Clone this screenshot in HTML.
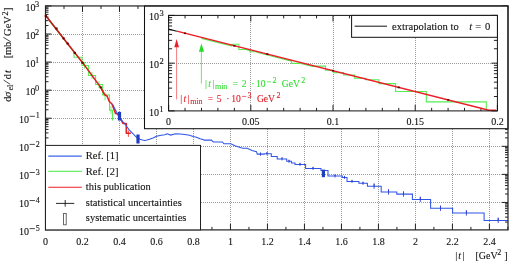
<!DOCTYPE html><html><head><meta charset="utf-8"><style>html,body{margin:0;padding:0;background:#fff;width:509px;height:262px;overflow:hidden}svg{display:block;will-change:transform}</style></head><body><svg width="509" height="262" viewBox="0 0 509 262">
<defs><clipPath id="cm"><rect x="45.50" y="5.95" width="462.50" height="223.95"/></clipPath>
<linearGradient id="rg" gradientUnits="userSpaceOnUse" x1="45" y1="0" x2="115" y2="0"><stop offset="0" stop-color="#b81a1a"/><stop offset="0.6" stop-color="#d61d1d"/><stop offset="1" stop-color="#e82020"/></linearGradient>
<clipPath id="ci"><rect x="168.60" y="15.40" width="328.80" height="95.50"/></clipPath></defs>
<rect width="509" height="262" fill="#fff"/>
<path d="M82.50 7.00V229.90M119.50 7.00V229.90M156.50 7.00V229.90M193.50 7.00V229.90M230.50 7.00V229.90M267.50 7.00V229.90M304.50 7.00V229.90M341.50 7.00V229.90M378.50 7.00V229.90M415.50 7.00V229.90M452.50 7.00V229.90M489.50 7.00V229.90M47.00 34.50H508.00M47.00 62.50H508.00M47.00 90.50H508.00M47.00 118.50H508.00M47.00 146.50H508.00M47.00 174.50H508.00M47.00 202.50H508.00" fill="none" stroke="#808080" stroke-width="0.8" stroke-dasharray="1 1"/>
<path d="M45.50 229.90v-6.00M45.50 5.95v6.00M64.00 229.90v-3.00M64.00 5.95v3.00M82.49 229.90v-6.00M82.49 5.95v6.00M100.99 229.90v-3.00M100.99 5.95v3.00M119.48 229.90v-6.00M119.48 5.95v6.00M137.98 229.90v-3.00M137.98 5.95v3.00M156.48 229.90v-6.00M156.48 5.95v6.00M174.97 229.90v-3.00M174.97 5.95v3.00M193.47 229.90v-6.00M193.47 5.95v6.00M211.96 229.90v-3.00M211.96 5.95v3.00M230.46 229.90v-6.00M230.46 5.95v6.00M248.96 229.90v-3.00M248.96 5.95v3.00M267.45 229.90v-6.00M267.45 5.95v6.00M285.95 229.90v-3.00M285.95 5.95v3.00M304.44 229.90v-6.00M304.44 5.95v6.00M322.94 229.90v-3.00M322.94 5.95v3.00M341.44 229.90v-6.00M341.44 5.95v6.00M359.93 229.90v-3.00M359.93 5.95v3.00M378.43 229.90v-6.00M378.43 5.95v6.00M396.92 229.90v-3.00M396.92 5.95v3.00M415.42 229.90v-6.00M415.42 5.95v6.00M433.92 229.90v-3.00M433.92 5.95v3.00M452.41 229.90v-6.00M452.41 5.95v6.00M470.91 229.90v-3.00M470.91 5.95v3.00M489.40 229.90v-6.00M489.40 5.95v6.00M507.90 229.90v-3.00M507.90 5.95v3.00M45.50 5.95h6.00M508.00 5.95h-6.00M45.50 25.57h3.00M508.00 25.57h-3.00M45.50 20.63h3.00M508.00 20.63h-3.00M45.50 17.12h3.00M508.00 17.12h-3.00M45.50 14.40h3.00M508.00 14.40h-3.00M45.50 12.18h3.00M508.00 12.18h-3.00M45.50 10.30h3.00M508.00 10.30h-3.00M45.50 8.67h3.00M508.00 8.67h-3.00M45.50 7.23h3.00M508.00 7.23h-3.00M45.50 34.02h6.00M508.00 34.02h-6.00M45.50 53.64h3.00M508.00 53.64h-3.00M45.50 48.70h3.00M508.00 48.70h-3.00M45.50 45.19h3.00M508.00 45.19h-3.00M45.50 42.47h3.00M508.00 42.47h-3.00M45.50 40.25h3.00M508.00 40.25h-3.00M45.50 38.37h3.00M508.00 38.37h-3.00M45.50 36.74h3.00M508.00 36.74h-3.00M45.50 35.30h3.00M508.00 35.30h-3.00M45.50 62.09h6.00M508.00 62.09h-6.00M45.50 81.71h3.00M508.00 81.71h-3.00M45.50 76.77h3.00M508.00 76.77h-3.00M45.50 73.26h3.00M508.00 73.26h-3.00M45.50 70.54h3.00M508.00 70.54h-3.00M45.50 68.32h3.00M508.00 68.32h-3.00M45.50 66.44h3.00M508.00 66.44h-3.00M45.50 64.81h3.00M508.00 64.81h-3.00M45.50 63.37h3.00M508.00 63.37h-3.00M45.50 90.16h6.00M508.00 90.16h-6.00M45.50 109.78h3.00M508.00 109.78h-3.00M45.50 104.84h3.00M508.00 104.84h-3.00M45.50 101.33h3.00M508.00 101.33h-3.00M45.50 98.61h3.00M508.00 98.61h-3.00M45.50 96.39h3.00M508.00 96.39h-3.00M45.50 94.51h3.00M508.00 94.51h-3.00M45.50 92.88h3.00M508.00 92.88h-3.00M45.50 91.44h3.00M508.00 91.44h-3.00M45.50 118.23h6.00M508.00 118.23h-6.00M45.50 137.85h3.00M508.00 137.85h-3.00M45.50 132.91h3.00M508.00 132.91h-3.00M45.50 129.40h3.00M508.00 129.40h-3.00M45.50 126.68h3.00M508.00 126.68h-3.00M45.50 124.46h3.00M508.00 124.46h-3.00M45.50 122.58h3.00M508.00 122.58h-3.00M45.50 120.95h3.00M508.00 120.95h-3.00M45.50 119.51h3.00M508.00 119.51h-3.00M45.50 146.30h6.00M508.00 146.30h-6.00M45.50 165.92h3.00M508.00 165.92h-3.00M45.50 160.98h3.00M508.00 160.98h-3.00M45.50 157.47h3.00M508.00 157.47h-3.00M45.50 154.75h3.00M508.00 154.75h-3.00M45.50 152.53h3.00M508.00 152.53h-3.00M45.50 150.65h3.00M508.00 150.65h-3.00M45.50 149.02h3.00M508.00 149.02h-3.00M45.50 147.58h3.00M508.00 147.58h-3.00M45.50 174.37h6.00M508.00 174.37h-6.00M45.50 193.99h3.00M508.00 193.99h-3.00M45.50 189.05h3.00M508.00 189.05h-3.00M45.50 185.54h3.00M508.00 185.54h-3.00M45.50 182.82h3.00M508.00 182.82h-3.00M45.50 180.60h3.00M508.00 180.60h-3.00M45.50 178.72h3.00M508.00 178.72h-3.00M45.50 177.09h3.00M508.00 177.09h-3.00M45.50 175.65h3.00M508.00 175.65h-3.00M45.50 202.44h6.00M508.00 202.44h-6.00M45.50 222.06h3.00M508.00 222.06h-3.00M45.50 217.12h3.00M508.00 217.12h-3.00M45.50 213.61h3.00M508.00 213.61h-3.00M45.50 210.89h3.00M508.00 210.89h-3.00M45.50 208.67h3.00M508.00 208.67h-3.00M45.50 206.79h3.00M508.00 206.79h-3.00M45.50 205.16h3.00M508.00 205.16h-3.00M45.50 203.72h3.00M508.00 203.72h-3.00" fill="none" stroke="#222" stroke-width="1"/>
<path d="M49.20 20.72L74.00 52.18V57.30H82.00V65.50H88.40V75.50H95.60V84.50H102.70V95.00H109.50V110.20H112.50V120.4" fill="none" stroke="#55ee55" stroke-width="1.1" clip-path="url(#cm)"/>
<path d="M105 92.2V100.3M84.5 62V68.5M92 72V79M99 81V88M111 106V114" fill="none" stroke="#55ee55" stroke-width="0.8"/>
<path d="M45.5 15.3L82.4 62.4L100.7 87.4L104.5 94.5L107 96L109.3 101.5L112 104L115.5 113.4L118 114L119.5 117L121 119.5L123 123.5H126.3V133.3H130.9" fill="none" stroke="url(#rg)" stroke-width="1.6" stroke-linejoin="round" clip-path="url(#cm)"/>
<path d="M128.4 130.5V136.8" stroke="#ee1c24" stroke-width="0.8"/>
<rect x="44.70" y="15.00" width="2.2" height="2" fill="#600"/>
<rect x="55.40" y="27.50" width="2.2" height="2" fill="#600"/>
<rect x="62.50" y="37.40" width="2.2" height="2" fill="#600"/>
<rect x="66.60" y="42.60" width="2.2" height="2" fill="#600"/>
<rect x="73.70" y="51.90" width="2.2" height="2" fill="#600"/>
<rect x="81.40" y="61.80" width="2.2" height="2" fill="#600"/>
<rect x="99.60" y="86.40" width="2.2" height="2" fill="#600"/>
<path d="M112.70 104.60L116.00 111.00L119.50 118.00L123.50 122.30L129.20 129.80L136.60 137.30L140.00 139.20L142.50 140.00L144.70 140.40L147.00 139.90L149.40 139.20L153.00 138.00L156.50 136.30L161.20 135.30L164.80 134.80L167.10 133.70L170.70 135.10L175.40 133.70L180.10 134.10L184.80 134.50L189.50 135.30L193.10 136.50L196.60 137.20L200.00 138.80L203.00 139.60L204.00 140.10L211.50 140.10L212.50 141.30L213.60 142.00L222.50 142.00L223.90 143.80L230.80 143.80L235.00 145.80L241.00 147.80L243.00 148.30L247.30 148.30L252.00 150.50L256.50 151.80L257.30 154.10L264.20 154.10L264.20 153.70L271.30 153.70L271.30 156.40L277.20 156.40L277.20 158.90L286.70 158.90L286.70 161.30L291.40 161.30L291.40 163.00L295.00 163.00L295.00 164.40L305.60 164.40L305.60 168.40L321.00 168.40L321.00 170.50L328.00 170.50L328.00 176.00L342.30 176.00L342.30 177.40L347.00 177.40L347.00 181.40L358.90 181.40L358.90 183.30L367.40 183.30L367.40 186.20L381.20 186.20L381.20 192.00L396.80 192.00L396.80 194.10L412.40 194.10L412.40 199.40L430.60 199.40L430.60 208.30L452.60 208.30L452.60 213.00L484.10 213.00L484.10 220.40L508.00 220.40" fill="none" stroke="#2f55e6" stroke-width="1.05" clip-path="url(#cm)"/>
<path d="M374.10 186.20v-2.6v5.2M388.50 192.00v-2.6v5.2M403.50 194.10v-2.6v5.2M420.30 199.40v-2.6v5.2M440.50 208.30v-2.6v5.2M466.40 213.00v-2.6v5.2M498.20 220.40v-2.6v5.2M352.00 181.40v-1.5v3M335.00 176.00v-1.5v3M313.00 168.40v-1.5v3M300.00 164.40v-1.5v3M282.00 158.90v-1.5v3M267.00 153.70v-1.5v3M260.50 154.20v-1.5v3M289.00 161.30v-1.5v3M344.50 177.40v-1.5v3M363.00 183.30v-1.5v3" stroke="#2a40d0" stroke-width="0.9"/>
<rect x="117.90" y="111.90" width="3.2" height="8.60" fill="#1f3fbf"/>
<rect x="136.40" y="134.50" width="3.2" height="9.00" fill="#1f3fbf"/>
<rect x="321.80" y="169.60" width="3.2" height="7.60" fill="#1f3fbf"/>
<rect x="144.5" y="5.95" width="363.50" height="122.75" fill="#fff" stroke="#111" stroke-width="1.05"/>
<path d="M250.50 16.00V110.90M333.50 16.00V110.90M415.50 16.00V110.90M170.00 63.50H497.40" fill="none" stroke="#808080" stroke-width="0.8" stroke-dasharray="1 1"/>
<path d="M168.60 110.90v-6.00M168.60 15.40v6.00M185.04 110.90v-3.00M185.04 15.40v3.00M201.48 110.90v-3.00M201.48 15.40v3.00M217.92 110.90v-3.00M217.92 15.40v3.00M234.36 110.90v-3.00M234.36 15.40v3.00M250.80 110.90v-6.00M250.80 15.40v6.00M267.24 110.90v-3.00M267.24 15.40v3.00M283.68 110.90v-3.00M283.68 15.40v3.00M300.12 110.90v-3.00M300.12 15.40v3.00M316.56 110.90v-3.00M316.56 15.40v3.00M333.00 110.90v-6.00M333.00 15.40v6.00M349.44 110.90v-3.00M349.44 15.40v3.00M365.88 110.90v-3.00M365.88 15.40v3.00M382.32 110.90v-3.00M382.32 15.40v3.00M398.76 110.90v-3.00M398.76 15.40v3.00M415.20 110.90v-6.00M415.20 15.40v6.00M431.64 110.90v-3.00M431.64 15.40v3.00M448.08 110.90v-3.00M448.08 15.40v3.00M464.52 110.90v-3.00M464.52 15.40v3.00M480.96 110.90v-3.00M480.96 15.40v3.00M497.40 110.90v-6.00M497.40 15.40v6.00M168.60 15.40h6.00M497.40 15.40h-6.00M168.60 48.78h3.50M497.40 48.78h-3.50M168.60 40.37h3.50M497.40 40.37h-3.50M168.60 34.40h3.50M497.40 34.40h-3.50M168.60 29.77h3.50M497.40 29.77h-3.50M168.60 25.99h3.50M497.40 25.99h-3.50M168.60 22.80h3.50M497.40 22.80h-3.50M168.60 20.03h3.50M497.40 20.03h-3.50M168.60 17.58h3.50M497.40 17.58h-3.50M168.60 63.15h6.00M497.40 63.15h-6.00M168.60 96.53h3.50M497.40 96.53h-3.50M168.60 88.12h3.50M497.40 88.12h-3.50M168.60 82.15h3.50M497.40 82.15h-3.50M168.60 77.52h3.50M497.40 77.52h-3.50M168.60 73.74h3.50M497.40 73.74h-3.50M168.60 70.55h3.50M497.40 70.55h-3.50M168.60 67.78h3.50M497.40 67.78h-3.50M168.60 65.33h3.50M497.40 65.33h-3.50M168.60 110.90h6M497.40 110.90h-6" fill="none" stroke="#222" stroke-width="1"/>
<path d="M201.50 38.37L231.80 46.04V44.20H238.90V49.50H246.00V49.63L250.00 50.64V51.80H257.00V52.41L291.50 61.15V63.40H299.60V63.20L312.80 66.54V66.10H325.50V70.30H333.40V72.60H343.60V75.00H354.60V78.30H365.60V79.70H379.00V83.60H395.60V91.50H426.30V101.90H486.30V110" fill="none" stroke="#55ee55" stroke-width="1.1" clip-path="url(#ci)"/>
<path d="M168.60 29.14L176.82 31.22" stroke="#111" stroke-width="1.1"/>
<path d="M176.82 31.22L488.82 110.20H496" fill="none" stroke="#ee1c24" stroke-width="1.35" clip-path="url(#ci)"/>
<rect x="183.94" y="32.50" width="2.2" height="1.6" fill="#600"/>
<rect x="233.26" y="44.98" width="2.2" height="1.6" fill="#600"/>
<rect x="266.14" y="53.31" width="2.2" height="1.6" fill="#600"/>
<rect x="331.90" y="69.95" width="2.2" height="1.6" fill="#600"/>
<rect x="397.66" y="86.59" width="2.2" height="1.6" fill="#600"/>
<rect x="446.98" y="99.08" width="2.2" height="1.6" fill="#600"/>
<path d="M176.6 47V99.4" stroke="#f07070" stroke-width="0.9"/>
<path d="M176.6 39.1L174.3 47.3H179Z" fill="#ee1c24"/>
<path d="M201.4 51V83.6" stroke="#66dd66" stroke-width="0.9"/>
<path d="M201.4 43.5L198.9 51.7H204.1Z" fill="#22dd22"/>
<rect x="168.60" y="15.40" width="328.80" height="95.50" fill="none" stroke="#111" stroke-width="1"/>
<rect x="351.6" y="15.40" width="145.80" height="21.90" fill="#fff" stroke="#111" stroke-width="1"/>
<path d="M354.6 26.2H387" stroke="#111" stroke-width="1"/>
<text x="391.99" y="29.50" font-family="Liberation Serif" stroke-width="0.1" stroke="currentColor" font-size="10.6" fill="#111" color="#111">extrapolation to</text>
<text x="469.33" y="29.50" font-family="Liberation Serif" stroke-width="0.1" stroke="currentColor" font-size="10.6" font-style="italic" fill="#111" color="#111">t</text>
<text x="475.37" y="29.50" font-family="Liberation Serif" stroke-width="0.1" stroke="currentColor" font-size="10.6" fill="#111" color="#111">=</text>
<text x="485.00" y="29.50" font-family="Liberation Serif" stroke-width="0.1" stroke="currentColor" font-size="10.6" fill="#111" color="#111">0</text>
<text x="149.02" y="20.40" font-family="Liberation Serif" stroke-width="0.1" stroke="currentColor" font-size="10" fill="#111" color="#111">10</text>
<text x="159.49" y="16.20" font-family="Liberation Serif" stroke-width="0.1" stroke="currentColor" font-size="8.5" fill="#111" color="#111">3</text>
<text x="149.02" y="68.15" font-family="Liberation Serif" stroke-width="0.1" stroke="currentColor" font-size="10" fill="#111" color="#111">10</text>
<text x="159.53" y="63.95" font-family="Liberation Serif" stroke-width="0.1" stroke="currentColor" font-size="8.5" fill="#111" color="#111">2</text>
<text x="149.02" y="115.90" font-family="Liberation Serif" stroke-width="0.1" stroke="currentColor" font-size="10" fill="#111" color="#111">10</text>
<text x="159.15" y="111.70" font-family="Liberation Serif" stroke-width="0.1" stroke="currentColor" font-size="8.5" fill="#111" color="#111">1</text>
<text x="168.60" y="124.6" font-family="Liberation Serif" stroke-width="0.1" stroke="currentColor" font-size="10" fill="#111" color="#111" text-anchor="middle">0</text>
<text x="250.80" y="124.6" font-family="Liberation Serif" stroke-width="0.1" stroke="currentColor" font-size="10" fill="#111" color="#111" text-anchor="middle">0.05</text>
<text x="333.00" y="124.6" font-family="Liberation Serif" stroke-width="0.1" stroke="currentColor" font-size="10" fill="#111" color="#111" text-anchor="middle">0.1</text>
<text x="415.20" y="124.6" font-family="Liberation Serif" stroke-width="0.1" stroke="currentColor" font-size="10" fill="#111" color="#111" text-anchor="middle">0.15</text>
<text x="497.40" y="124.6" font-family="Liberation Serif" stroke-width="0.1" stroke="currentColor" font-size="10" fill="#111" color="#111" text-anchor="middle">0.2</text>
<text x="205.08" y="87.40" font-family="Liberation Serif" stroke-width="0.1" stroke="currentColor" font-size="9.6" fill="#33dd33" color="#33dd33">|</text>
<text x="208.18" y="87.40" font-family="Liberation Serif" stroke-width="0.1" stroke="currentColor" font-size="9.6" font-style="italic" fill="#33dd33" color="#33dd33">t</text>
<text x="212.48" y="87.40" font-family="Liberation Serif" stroke-width="0.1" stroke="currentColor" font-size="9.6" fill="#33dd33" color="#33dd33">|</text>
<text x="214.93" y="89.40" font-family="Liberation Serif" stroke-width="0.1" stroke="currentColor" font-size="8.0" fill="#33dd33" color="#33dd33">min</text>
<text x="232.62" y="87.40" font-family="Liberation Serif" stroke-width="0.1" stroke="currentColor" font-size="9.6" fill="#33dd33" color="#33dd33">=</text>
<text x="241.78" y="87.40" font-family="Liberation Serif" stroke-width="0.1" stroke="currentColor" font-size="9.6" fill="#33dd33" color="#33dd33">2</text>
<text x="251.17" y="87.40" font-family="Liberation Serif" stroke-width="0.1" stroke="currentColor" font-size="9.6" fill="#33dd33" color="#33dd33">·</text>
<text x="255.96" y="87.40" font-family="Liberation Serif" stroke-width="0.1" stroke="currentColor" font-size="9.6" fill="#33dd33" color="#33dd33">10</text>
<path d="M266.90 81.80H271.10" stroke="#33dd33" stroke-width="0.7"/>
<text x="272.45" y="83.40" font-family="Liberation Serif" stroke-width="0.1" stroke="currentColor" font-size="8.0" fill="#33dd33" color="#33dd33">2</text>
<text x="281.71" y="87.40" font-family="Liberation Serif" stroke-width="0.1" stroke="currentColor" font-size="9.6" fill="#33dd33" color="#33dd33">GeV</text>
<text x="301.35" y="83.10" font-family="Liberation Serif" stroke-width="0.1" stroke="currentColor" font-size="8.0" fill="#33dd33" color="#33dd33">2</text>
<text x="180.28" y="102.00" font-family="Liberation Serif" stroke-width="0.1" stroke="currentColor" font-size="9.6" fill="#e0202a" color="#e0202a">|</text>
<text x="183.38" y="102.00" font-family="Liberation Serif" stroke-width="0.1" stroke="currentColor" font-size="9.6" font-style="italic" fill="#e0202a" color="#e0202a">t</text>
<text x="187.68" y="102.00" font-family="Liberation Serif" stroke-width="0.1" stroke="currentColor" font-size="9.6" fill="#e0202a" color="#e0202a">|</text>
<text x="190.13" y="104.00" font-family="Liberation Serif" stroke-width="0.1" stroke="currentColor" font-size="8.0" fill="#e0202a" color="#e0202a">min</text>
<text x="207.82" y="102.00" font-family="Liberation Serif" stroke-width="0.1" stroke="currentColor" font-size="9.6" fill="#e0202a" color="#e0202a">=</text>
<text x="216.84" y="102.00" font-family="Liberation Serif" stroke-width="0.1" stroke="currentColor" font-size="9.6" fill="#e0202a" color="#e0202a">5</text>
<text x="226.37" y="102.00" font-family="Liberation Serif" stroke-width="0.1" stroke="currentColor" font-size="9.6" fill="#e0202a" color="#e0202a">·</text>
<text x="231.16" y="102.00" font-family="Liberation Serif" stroke-width="0.1" stroke="currentColor" font-size="9.6" fill="#e0202a" color="#e0202a">10</text>
<path d="M242.10 96.40H246.30" stroke="#e0202a" stroke-width="0.7"/>
<text x="247.62" y="98.00" font-family="Liberation Serif" stroke-width="0.1" stroke="currentColor" font-size="8.0" fill="#e0202a" color="#e0202a">3</text>
<text x="256.91" y="102.00" font-family="Liberation Serif" stroke-width="0.1" stroke="currentColor" font-size="9.6" fill="#e0202a" color="#e0202a">GeV</text>
<text x="276.55" y="97.70" font-family="Liberation Serif" stroke-width="0.1" stroke="currentColor" font-size="8.0" fill="#e0202a" color="#e0202a">2</text>
<rect x="45.50" y="5.95" width="462.50" height="223.95" fill="none" stroke="#222" stroke-width="1.2"/>
<rect x="45.50" y="145.4" width="155.00" height="84.50" fill="#fff" stroke="#222" stroke-width="1"/>
<path d="M48.3 156.1H81.8" stroke="#3a66e8" stroke-width="1.1"/>
<path d="M48.3 171.4H81.8" stroke="#66ee66" stroke-width="1.2"/>
<path d="M48.3 187.2H81.8" stroke="#ee1c24" stroke-width="1.1"/>
<path d="M56 203.4H74.3M65.2 200V206.6" stroke="#111" stroke-width="0.9"/>
<rect x="63.6" y="213.5" width="2.6" height="11.3" fill="none" stroke="#444" stroke-width="0.8"/>
<text x="85.8" y="159.3" font-family="Liberation Serif" stroke-width="0.1" stroke="currentColor" font-size="10.5" fill="#111" color="#111">Ref. [1]</text>
<text x="85.8" y="174.6" font-family="Liberation Serif" stroke-width="0.1" stroke="currentColor" font-size="10.5" fill="#111" color="#111">Ref. [2]</text>
<text x="85.8" y="190.4" font-family="Liberation Serif" stroke-width="0.1" stroke="currentColor" font-size="10.5" fill="#111" color="#111">this publication</text>
<text x="85.8" y="205.8" font-family="Liberation Serif" stroke-width="0.1" stroke="currentColor" font-size="10.5" fill="#111" color="#111">statistical uncertainties</text>
<text x="85.8" y="221.3" font-family="Liberation Serif" stroke-width="0.1" stroke="currentColor" font-size="10.5" fill="#111" color="#111">systematic uncertainties</text>
<text x="45.50" y="244.6" font-family="Liberation Serif" stroke-width="0.1" stroke="currentColor" font-size="10" fill="#111" color="#111" text-anchor="middle">0</text>
<text x="82.49" y="244.6" font-family="Liberation Serif" stroke-width="0.1" stroke="currentColor" font-size="10" fill="#111" color="#111" text-anchor="middle">0.2</text>
<text x="119.48" y="244.6" font-family="Liberation Serif" stroke-width="0.1" stroke="currentColor" font-size="10" fill="#111" color="#111" text-anchor="middle">0.4</text>
<text x="156.48" y="244.6" font-family="Liberation Serif" stroke-width="0.1" stroke="currentColor" font-size="10" fill="#111" color="#111" text-anchor="middle">0.6</text>
<text x="193.47" y="244.6" font-family="Liberation Serif" stroke-width="0.1" stroke="currentColor" font-size="10" fill="#111" color="#111" text-anchor="middle">0.8</text>
<text x="230.46" y="244.6" font-family="Liberation Serif" stroke-width="0.1" stroke="currentColor" font-size="10" fill="#111" color="#111" text-anchor="middle">1</text>
<text x="267.45" y="244.6" font-family="Liberation Serif" stroke-width="0.1" stroke="currentColor" font-size="10" fill="#111" color="#111" text-anchor="middle">1.2</text>
<text x="304.44" y="244.6" font-family="Liberation Serif" stroke-width="0.1" stroke="currentColor" font-size="10" fill="#111" color="#111" text-anchor="middle">1.4</text>
<text x="341.44" y="244.6" font-family="Liberation Serif" stroke-width="0.1" stroke="currentColor" font-size="10" fill="#111" color="#111" text-anchor="middle">1.6</text>
<text x="378.43" y="244.6" font-family="Liberation Serif" stroke-width="0.1" stroke="currentColor" font-size="10" fill="#111" color="#111" text-anchor="middle">1.8</text>
<text x="415.42" y="244.6" font-family="Liberation Serif" stroke-width="0.1" stroke="currentColor" font-size="10" fill="#111" color="#111" text-anchor="middle">2</text>
<text x="452.41" y="244.6" font-family="Liberation Serif" stroke-width="0.1" stroke="currentColor" font-size="10" fill="#111" color="#111" text-anchor="middle">2.2</text>
<text x="489.40" y="244.6" font-family="Liberation Serif" stroke-width="0.1" stroke="currentColor" font-size="10" fill="#111" color="#111" text-anchor="middle">2.4</text>
<text x="25.4" y="10.55" font-family="Liberation Serif" stroke-width="0.1" stroke="currentColor" font-size="10" fill="#111" color="#111">10</text>
<text x="35.1" y="6.85" font-family="Liberation Serif" stroke-width="0.1" stroke="currentColor" font-size="8.3" fill="#111" color="#111">3</text>
<text x="25.4" y="38.62" font-family="Liberation Serif" stroke-width="0.1" stroke="currentColor" font-size="10" fill="#111" color="#111">10</text>
<text x="35.1" y="34.92" font-family="Liberation Serif" stroke-width="0.1" stroke="currentColor" font-size="8.3" fill="#111" color="#111">2</text>
<text x="25.4" y="66.69" font-family="Liberation Serif" stroke-width="0.1" stroke="currentColor" font-size="10" fill="#111" color="#111">10</text>
<text x="35.1" y="62.99" font-family="Liberation Serif" stroke-width="0.1" stroke="currentColor" font-size="8.3" fill="#111" color="#111">1</text>
<text x="25.4" y="94.76" font-family="Liberation Serif" stroke-width="0.1" stroke="currentColor" font-size="10" fill="#111" color="#111">10</text>
<text x="35.1" y="91.06" font-family="Liberation Serif" stroke-width="0.1" stroke="currentColor" font-size="8.3" fill="#111" color="#111">0</text>
<text x="18.9" y="122.63" font-family="Liberation Serif" stroke-width="0.1" stroke="currentColor" font-size="10" fill="#111" color="#111">10</text>
<path d="M29.6 116.33H34.9" stroke="#111" stroke-width="0.75"/>
<text x="35.7" y="118.43" font-family="Liberation Serif" stroke-width="0.1" stroke="currentColor" font-size="8" fill="#111" color="#111">1</text>
<text x="18.9" y="150.70" font-family="Liberation Serif" stroke-width="0.1" stroke="currentColor" font-size="10" fill="#111" color="#111">10</text>
<path d="M29.6 144.40H34.9" stroke="#111" stroke-width="0.75"/>
<text x="35.7" y="146.50" font-family="Liberation Serif" stroke-width="0.1" stroke="currentColor" font-size="8" fill="#111" color="#111">2</text>
<text x="18.9" y="178.77" font-family="Liberation Serif" stroke-width="0.1" stroke="currentColor" font-size="10" fill="#111" color="#111">10</text>
<path d="M29.6 172.47H34.9" stroke="#111" stroke-width="0.75"/>
<text x="35.7" y="174.57" font-family="Liberation Serif" stroke-width="0.1" stroke="currentColor" font-size="8" fill="#111" color="#111">3</text>
<text x="18.9" y="206.84" font-family="Liberation Serif" stroke-width="0.1" stroke="currentColor" font-size="10" fill="#111" color="#111">10</text>
<path d="M29.6 200.54H34.9" stroke="#111" stroke-width="0.75"/>
<text x="35.7" y="202.64" font-family="Liberation Serif" stroke-width="0.1" stroke="currentColor" font-size="8" fill="#111" color="#111">4</text>
<text x="18.9" y="234.91" font-family="Liberation Serif" stroke-width="0.1" stroke="currentColor" font-size="10" fill="#111" color="#111">10</text>
<path d="M29.6 228.61H34.9" stroke="#111" stroke-width="0.75"/>
<text x="35.7" y="230.71" font-family="Liberation Serif" stroke-width="0.1" stroke="currentColor" font-size="8" fill="#111" color="#111">5</text>
<text x="455.15" y="258.90" font-family="Liberation Serif" stroke-width="0.1" stroke="currentColor" font-size="10" fill="#111" color="#111">|</text>
<text x="458.16" y="258.90" font-family="Liberation Serif" stroke-width="0.1" stroke="currentColor" font-size="10" font-style="italic" fill="#111" color="#111">t</text>
<text x="462.45" y="258.90" font-family="Liberation Serif" stroke-width="0.1" stroke="currentColor" font-size="10" fill="#111" color="#111">|</text>
<text x="475.46" y="258.90" font-family="Liberation Serif" stroke-width="0.1" stroke="currentColor" font-size="10" fill="#111" color="#111">[GeV</text>
<text x="497.25" y="254.60" font-family="Liberation Serif" stroke-width="0.1" stroke="currentColor" font-size="8" fill="#111" color="#111">2</text>
<text x="504.24" y="258.90" font-family="Liberation Serif" stroke-width="0.1" stroke="currentColor" font-size="10" fill="#111" color="#111">]</text>
<path d="M10.9 41.9L3.3 37.3M10.2 84.3L3.6 80.1" stroke="#111" stroke-width="0.75"/>
<text transform="translate(10.70,101.8) rotate(-90)" font-family="Liberation Serif" stroke-width="0.1" stroke="currentColor" font-size="10.5" fill="#111" color="#111">d</text>
<text transform="translate(10.70,96.9) rotate(-90)" font-family="Liberation Serif" stroke-width="0.1" stroke="currentColor" font-size="10.5" font-style="italic" fill="#111" color="#111">σ</text>
<text transform="translate(13.00,90.6) rotate(-90)" font-family="Liberation Serif" stroke-width="0.1" stroke="currentColor" font-size="8.2" fill="#111" color="#111">el</text>
<text transform="translate(10.70,79.3) rotate(-90)" font-family="Liberation Serif" stroke-width="0.1" stroke="currentColor" font-size="10.5" fill="#111" color="#111">d</text>
<text transform="translate(10.70,73.0) rotate(-90)" font-family="Liberation Serif" stroke-width="0.1" stroke="currentColor" font-size="10.5" font-style="italic" fill="#111" color="#111">t</text>
<text transform="translate(10.70,58.2) rotate(-90)" font-family="Liberation Serif" stroke-width="0.1" stroke="currentColor" font-size="10.5" fill="#111" color="#111">[</text>
<text transform="translate(10.70,55.1) rotate(-90)" font-family="Liberation Serif" stroke-width="0.1" stroke="currentColor" font-size="10.5" fill="#111" color="#111">mb</text>
<text transform="translate(10.70,35.9) rotate(-90)" font-family="Liberation Serif" stroke-width="0.1" stroke="currentColor" font-size="10.5" fill="#111" color="#111">GeV</text>
<text transform="translate(7.70,15.6) rotate(-90)" font-family="Liberation Serif" stroke-width="0.1" stroke="currentColor" font-size="8.2" fill="#111" color="#111">2</text>
<text transform="translate(10.70,11.0) rotate(-90)" font-family="Liberation Serif" stroke-width="0.1" stroke="currentColor" font-size="10.5" fill="#111" color="#111">]</text>
</svg></body></html>
